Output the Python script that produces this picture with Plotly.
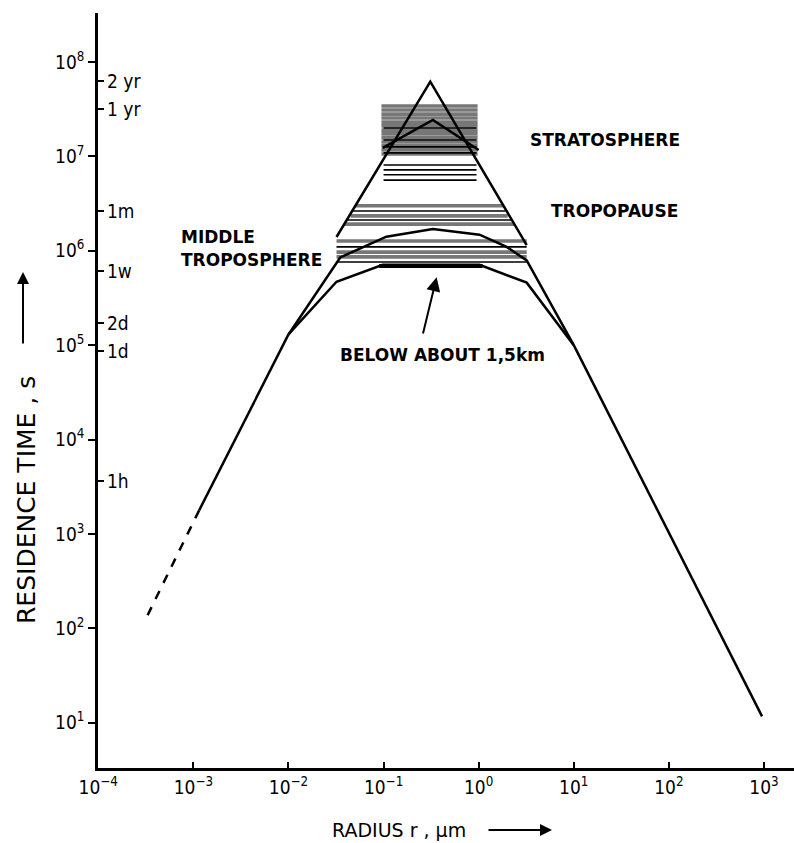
import math
import plotly.graph_objects as go

# ---------------- data (radius in µm, residence time in s) ----------------
small_r_dashed = [3.3e-4, 1.15e-3]
small_t_dashed = [138, 1780]
small_r = [1.15e-3, 1.0e-2]
small_t = [1780, 1.3e5]
large_r = [10.0, 955.0]
large_t = [1.0e5, 11.7]

low_r = [0.01, 0.032, 0.098, 1.02, 3.2, 10.0]
low_t = [1.3e5, 4.7e5, 7.1e5, 7.1e5, 4.6e5, 1.0e5]

mid_r = [0.01, 0.035, 0.107, 0.33, 1.02, 1.97, 3.2, 10.0]
mid_t = [1.3e5, 8.5e5, 1.41e6, 1.7e6, 1.48e6, 1.1e6, 7.9e5, 1.0e5]

trop_r = [0.032, 0.31, 3.2]
trop_t = [1.4e6, 6.2e7, 1.15e6]

strat_r = [0.098, 0.33, 1.0]
strat_t = [1.23e7, 2.43e7, 1.17e7]

# hatching (horizontal lines): time level, radius from, radius to
strat_gray_t = [3.42e7, 3.10e7, 2.81e7, 2.55e7, 2.31e7, 2.10e7, 1.90e7,
                1.73e7, 1.57e7, 1.42e7, 1.29e7, 1.17e7, 1.06e7]
strat_gray_r = [0.095, 0.975]
strat_black_t = [2.0e7, 1.49e7, 1.26e7, 1.09e7, 8.1e6, 7.2e6, 6.4e6, 5.6e6]
strat_black_r = [0.10, 0.95]

tp_gray_t = [3.0e6, 2.34e6, 1.92e6]
tp_gray_r0 = [0.051, 0.045, 0.039]
tp_gray_r1 = [1.83, 2.02, 2.39]
tp_black_t = [2.64e6, 2.12e6]
tp_black_r0 = [0.048, 0.042]
tp_black_r1 = [1.92, 2.2]

mt_gray_t = [1.27e6, 9.7e5, 8.6e5]
mt_black_t = [1.1e6, 7.6e5]
mt_r = [0.032, 3.2]
bl_thick_t = [6.9e5]
bl_thick_r = [0.09, 1.1]

x_tickvals = [1e-4, 1e-3, 1e-2, 1e-1, 1e0, 1e1, 1e2, 1e3]
x_ticktext = ["10<sup>−4</sup>", "10<sup>−3</sup>", "10<sup>−2</sup>", "10<sup>−1</sup>",
              "10<sup>0</sup>", "10<sup>1</sup>", "10<sup>2</sup>", "10<sup>3</sup>"]
y_tickvals = [1e1, 1e2, 1e3, 1e4, 1e5, 1e6, 1e7, 1e8]
y_ticktext = ["10<sup>1</sup>", "10<sup>2</sup>", "10<sup>3</sup>", "10<sup>4</sup>",
              "10<sup>5</sup>", "10<sup>6</sup>", "10<sup>7</sup>", "10<sup>8</sup>"]
time_tickvals = [6.31e7, 3.156e7, 2.63e6, 604800, 172800, 86400, 3600]
time_ticktext = ["2 yr", "1 yr", "1m", "1w", "2d", "1d", "1h"]

FONT = "DejaVu Sans Condensed"
WFONT = "DejaVu Sans"

fig = go.Figure()


def hlines(levels, r0s, r1s, color, width):
    xs, ys = [], []
    for t, a, b in zip(levels, r0s, r1s):
        xs += [a, b, None]
        ys += [t, t, None]
    fig.add_trace(go.Scatter(x=xs, y=ys, mode="lines",
                             line=dict(color=color, width=width),
                             hoverinfo="skip", showlegend=False))


GRAY = "#777777"
hlines(strat_gray_t, [strat_gray_r[0]] * len(strat_gray_t), [strat_gray_r[1]] * len(strat_gray_t), GRAY, 3.7)
hlines(strat_black_t, [strat_black_r[0]] * len(strat_black_t), [strat_black_r[1]] * len(strat_black_t), "black", 1.6)
hlines(tp_gray_t, tp_gray_r0, tp_gray_r1, GRAY, 3.7)
hlines(tp_black_t, tp_black_r0, tp_black_r1, "black", 1.6)
hlines(mt_gray_t, [mt_r[0]] * 3, [mt_r[1]] * 3, GRAY, 3.7)
hlines(mt_black_t, [mt_r[0]] * 2, [mt_r[1]] * 2, "black", 1.6)
hlines(bl_thick_t, [bl_thick_r[0]], [bl_thick_r[1]], "black", 4)

LW = 2.5
for xs, ys, dash in [
    (small_r_dashed, small_t_dashed, "dash"),
    (small_r, small_t, "solid"),
    (large_r, large_t, "solid"),
    (low_r, low_t, "solid"),
    (mid_r, mid_t, "solid"),
    (trop_r, trop_t, "solid"),
    (strat_r, strat_t, "solid"),
]:
    fig.add_trace(go.Scatter(x=xs, y=ys, mode="lines",
                             line=dict(color="black", width=LW, dash=dash),
                             hoverinfo="skip", showlegend=False))

# invisible trace to activate the time axis
fig.add_trace(go.Scatter(x=[1e-4], y=[1], yaxis="y2", mode="markers",
                         marker=dict(opacity=0), hoverinfo="skip", showlegend=False))

axis_font = dict(family=FONT, size=19, color="black")
XR = [-4.003, 3.316]
YR = [0.521, 8.519]
fig.update_layout(
    width=794, height=843,
    margin=dict(l=98, r=0, t=13, b=75, autoexpand=False),
    paper_bgcolor="white", plot_bgcolor="white",
    showlegend=False,
    xaxis=dict(type="log", range=XR, showgrid=False, zeroline=False,
               automargin=False,
               showline=True, linewidth=2.5, linecolor="black",
               ticks="inside", ticklen=6, tickwidth=2, tickcolor="black",
               tickvals=x_tickvals, ticktext=x_ticktext, tickfont=axis_font),
    yaxis=dict(type="log", range=YR, showgrid=False, zeroline=False,
               automargin=False,
               showline=True, linewidth=2.5, linecolor="black",
               ticks="outside", ticklen=7, tickwidth=2, tickcolor="black",
               tickvals=y_tickvals, ticktext=y_ticktext, tickfont=axis_font),
    yaxis2=dict(type="log", range=YR, overlaying="y", anchor="x",
                side="left", showgrid=False, zeroline=False, showline=False,
                automargin=False, showticklabels=False,
                ticks="inside", ticklen=6, tickwidth=2, tickcolor="black",
                tickvals=time_tickvals),
)

# time-scale labels next to the inside ticks
for tv, tt in zip(time_tickvals, time_ticktext):
    fig.add_annotation(x=0, y=math.log10(tv), xref="paper", yref="y", text=tt,
                       showarrow=False, xanchor="left", yanchor="middle", xshift=7,
                       font=dict(family=FONT, size=19, color="black"))

lab_font = dict(family=WFONT, size=17, color="black")
labels = [
    ("STRATOSPHERE", 0.516, 7.174),
    ("TROPOPAUSE", 0.737, 6.42),
    ("MIDDLE", -3.147, 6.146),
    ("TROPOSPHERE", -3.147, 5.90),
    ("BELOW ABOUT 1,5km", -1.484, 4.896),
]
for txt, lx, ly in labels:
    fig.add_annotation(x=lx, y=ly, xref="x", yref="y", text=f"<b>{txt}</b>",
                       showarrow=False, xanchor="left", yanchor="middle", font=lab_font)

# arrow pointing to the lowest layer
fig.add_annotation(x=-0.442, y=5.72, ax=-0.589, ay=5.108, xref="x", yref="y",
                   axref="x", ayref="y", text="", showarrow=True,
                   arrowhead=2, arrowsize=1.4, arrowwidth=2, arrowcolor="black")

# axis titles
title_font = dict(family=WFONT, size=25, color="black")
fig.add_annotation(x=(26 - 98) / 696, y=(768 - 500) / 755, xref="paper", yref="paper",
                   text="RESIDENCE TIME , s", textangle=-90, showarrow=False,
                   xanchor="center", yanchor="middle", font=title_font)
fig.add_annotation(x=(23 - 98) / 696, y=(768 - 272) / 755, xref="paper", yref="paper",
                   ax=0, ay=73, text="", showarrow=True, arrowhead=2, arrowsize=1.2,
                   arrowwidth=2, arrowcolor="black")
fig.add_annotation(x=(399 - 98) / 696, y=(768 - 830) / 755, xref="paper", yref="paper",
                   text="RADIUS r , µm", showarrow=False,
                   xanchor="center", yanchor="middle", font=dict(family=WFONT, size=19, color="black"))
fig.add_annotation(x=(552 - 98) / 696, y=(768 - 830) / 755, xref="paper", yref="paper",
                   ax=-65, ay=0, text="", showarrow=True, arrowhead=2, arrowsize=1.2,
                   arrowwidth=2, arrowcolor="black")

fig.write_html("out.html", config={"displayModeBar": False},
               post_script="document.body.style.margin='0';document.body.style.overflow='hidden';")
